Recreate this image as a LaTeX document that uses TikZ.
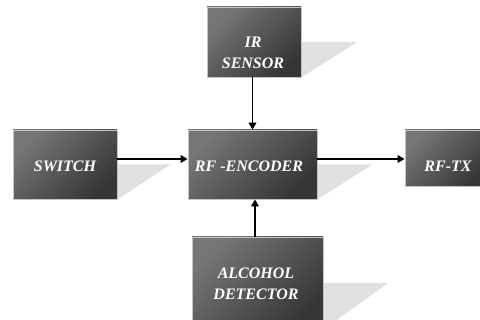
\documentclass[tikz,border=0pt]{standalone}
\usepackage{fontspec}
\setmainfont{Liberation Serif}
\usetikzlibrary{arrows.meta,backgrounds,calc}

\definecolor{boxlight}{HTML}{767676}
\definecolor{boxdark}{HTML}{363636}
\definecolor{boxedge}{HTML}{C4C4C4}
\definecolor{castshade}{HTML}{E0E0E0}

\tikzset{
  block/.style={draw=boxedge, line width=0.8pt, top color=boxlight,
    bottom color=boxdark, shading angle=45, inner sep=0pt},
  lbl/.style={text=white, align=center, inner sep=0pt,
    font=\fontsize{16}{21}\selectfont\bfseries\itshape},
  flow/.style={line width=1.9pt, -{Triangle[length=7pt,width=7.5pt]}},
  castshadow/.style={fill=castshade}
}

\begin{document}
\begin{tikzpicture}[x=1pt,y=-1pt]
\useasboundingbox (0,0) rectangle (480,320);
\clip (0,0) rectangle (480,320);

% blocks
\node[block, minimum width=94pt,  minimum height=70pt] (ir)  at (254,42)    {};
\node[block, minimum width=104pt, minimum height=69pt] (sw)  at (65,164.5)  {};
\node[block, minimum width=129pt, minimum height=69pt] (enc) at (252.5,164.5) {};
\node[block, minimum width=85pt,  minimum height=56pt] (tx)  at (447.5,158) {};
\node[block, minimum width=131pt, minimum height=92pt] (alc) at (257.5,283) {};

% block captions
\node[lbl] (irtxt)  at (253,53)    {IR\\SENSOR};
\node[lbl] (swtxt)  at (65,166)    {SWITCH};
\node[lbl] (enctxt) at (249,166.5) {RF -ENCODER};
\node[lbl] (txtxt)  at (448,166.5) {RF-TX};
\node[lbl] (alctxt) at (256,283.5) {ALCOHOL\\DETECTOR};

% cast shadows behind the blocks
\begin{scope}[on background layer]
  \fill[castshadow] (ir.east)  -- ++(56,0) -- (ir.south east)  -- cycle;
  \fill[castshadow] (sw.east)  -- ++(53,0) -- (sw.south east)  -- cycle;
  \fill[castshadow] (enc.east) -- ++(55,0) -- (enc.south east) -- cycle;
  \fill[castshadow] (alc.east) -- ++(65,0) -- (alc.south east) -- cycle;
\end{scope}

% signal flow
\path ($(sw.east)+(0,-5.5)$)  coordinate (s1);
\path ($(enc.east)+(0,-5.5)$) coordinate (e1);
\path ($(enc.south)+(2.5,0)$) coordinate (a1);
\draw[flow] (ir.south -| enc.north) -- (enc.north);
\draw[flow] (s1) -- (s1 -| enc.west);
\draw[flow] (e1) -- (e1 -| tx.west);
\draw[flow] (a1 |- alc.north) -- (a1);
\end{tikzpicture}
\end{document}
